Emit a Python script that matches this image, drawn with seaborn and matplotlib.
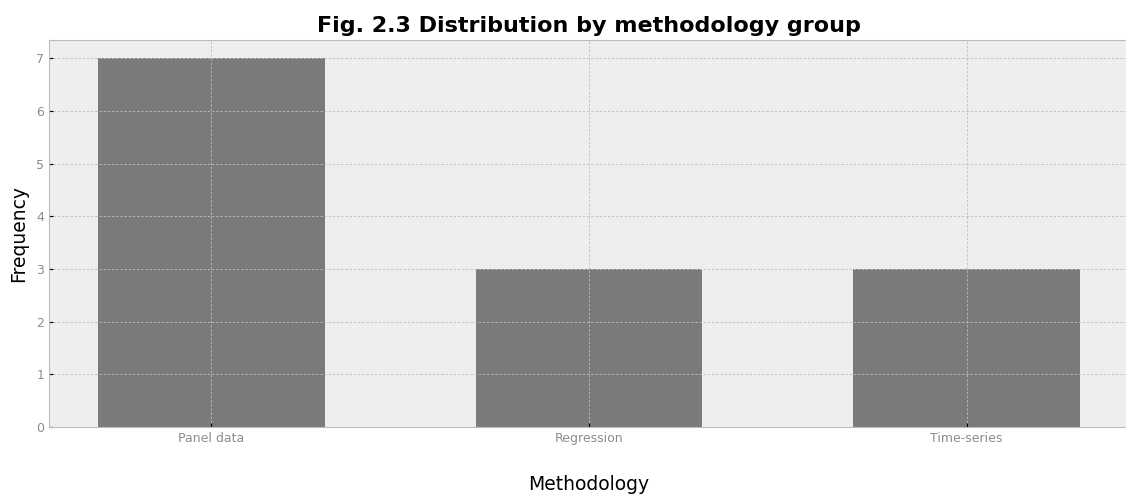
import matplotlib
matplotlib.use("Agg")
import matplotlib.pyplot as plt
import seaborn as sns
import pandas as pd

categories = ["Panel data", "Regression", "Time-series"]
frequencies = [7, 3, 3]

plt.style.use("bmh")
plt.rcParams["font.family"] = ["DejaVu Sans"]

df = pd.DataFrame({"Methodology": categories, "Frequency": frequencies})

fig = plt.figure(figsize=(11.26, 4.98), dpi=100)
ax = fig.add_axes([49 / 1126, 1 - 427 / 498, (1129 - 49) / 1126, (427 - 40) / 498])

sns.barplot(data=df, x="Methodology", y="Frequency", color="#7a7a7a",
            saturation=1, width=0.6, ax=ax)

ax.set_facecolor("#eeeeee")
ax.grid(True, color="#bdbdbd", linestyle=(0, (3, 2)), linewidth=0.6)
ax.set_xlim(-0.43, 2.43)
ax.set_ylim(0, 7.35)
ax.tick_params(axis="both", labelsize=9, labelcolor="#8c8c8c", color="black", length=3)
for s in ["top", "left", "bottom", "right"]:
    ax.spines[s].set_color("#bcbcbc")
ax.set_xlabel("Methodology", fontsize=13.5, labelpad=22)
ax.set_ylabel("Frequency", fontsize=13.5, labelpad=6)
ax.set_title("Fig. 2.3 Distribution by methodology group", fontsize=16,
             fontweight="bold", pad=6)

fig.savefig("out.png", dpi=100)
